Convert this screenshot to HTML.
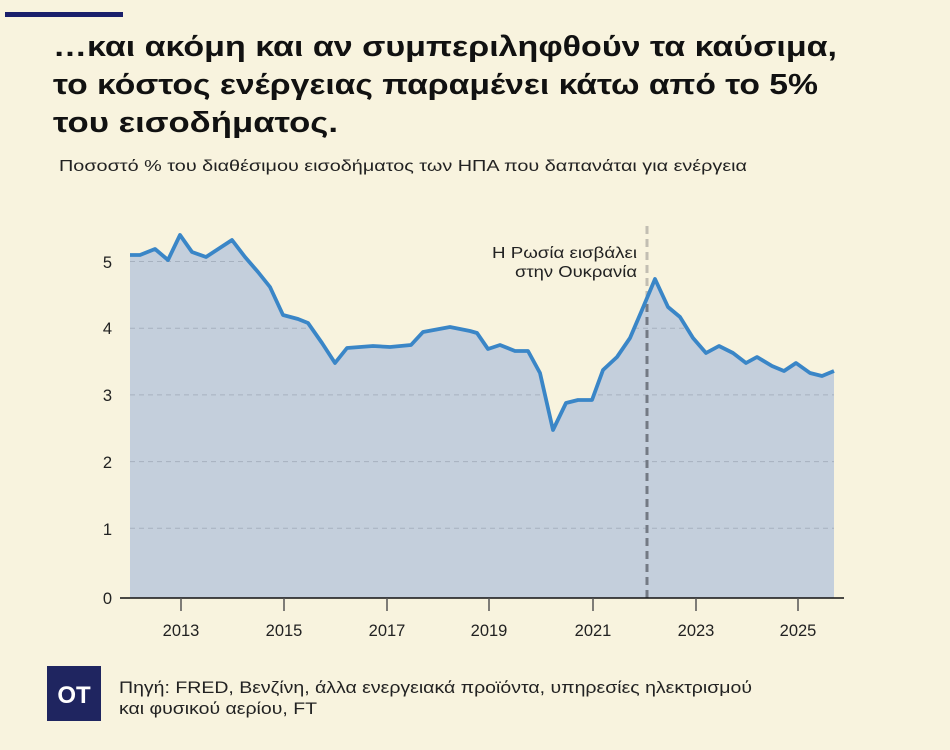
<!DOCTYPE html>
<html>
<head>
<meta charset="utf-8">
<style>
html,body{margin:0;padding:0;}
body{width:950px;height:750px;background:#f8f3de;overflow:hidden;}
svg{display:block;}
.t{font-family:"Liberation Sans","DejaVu Sans",sans-serif;}
</style>
</head>
<body>
<svg width="950" height="750" viewBox="0 0 950 750" xmlns="http://www.w3.org/2000/svg">
<rect x="0" y="0" width="950" height="750" fill="#f8f3de"/>
<rect x="5" y="12" width="118" height="5" fill="#1a1f6b"/>
<g class="t" font-weight="bold" font-size="29" fill="#111">
<text x="53" y="56" textLength="784" lengthAdjust="spacingAndGlyphs">…και ακόμη και αν συμπεριληφθούν τα καύσιμα,</text>
<text x="53" y="94" textLength="765" lengthAdjust="spacingAndGlyphs">το κόστος ενέργειας παραμένει κάτω από το 5%</text>
<text x="53" y="132" textLength="285" lengthAdjust="spacingAndGlyphs">του εισοδήματος.</text>
</g>
<text class="t" x="59" y="171" font-size="16" fill="#222" textLength="688" lengthAdjust="spacingAndGlyphs">Ποσοστό % του διαθέσιμου εισοδήματος των ΗΠΑ που δαπανάται για ενέργεια</text>

<defs>
<clipPath id="area">
<path d="M130,598 L130,255 L140,255 L155,249 L168,260 L180,235 L192,252 L206,257 L232,240 L245,257 L258,272 L270,287 L283,315 L298,319 L308,323 L322,343 L335,363 L347,348 L373,346 L390,347 L411,345 L423,332 L450,327 L470,331 L477,333 L488,349 L500,345 L515,351 L528,351 L540,373 L553,430 L566,403 L578,400 L592,400 L603,370 L617,357 L630,338 L642,310 L655,279 L668,307 L680,317 L693,338 L706,353 L719,346 L733,353 L746,363 L757,357 L772,366 L784,371 L796,363 L810,373 L822,376 L834,371 L834,598 Z"/>
</clipPath>
</defs>
<path d="M130,598 L130,255 L140,255 L155,249 L168,260 L180,235 L192,252 L206,257 L232,240 L245,257 L258,272 L270,287 L283,315 L298,319 L308,323 L322,343 L335,363 L347,348 L373,346 L390,347 L411,345 L423,332 L450,327 L470,331 L477,333 L488,349 L500,345 L515,351 L528,351 L540,373 L553,430 L566,403 L578,400 L592,400 L603,370 L617,357 L630,338 L642,310 L655,279 L668,307 L680,317 L693,338 L706,353 L719,346 L733,353 L746,363 L757,357 L772,366 L784,371 L796,363 L810,373 L822,376 L834,371 L834,598 Z" fill="#c4cfdc"/>
<g clip-path="url(#area)" stroke="#a6b1bf" stroke-width="1" stroke-dasharray="5,4">
<line x1="130" y1="261.5" x2="834" y2="261.5"/>
<line x1="130" y1="328.2" x2="834" y2="328.2"/>
<line x1="130" y1="394.9" x2="834" y2="394.9"/>
<line x1="130" y1="461.6" x2="834" y2="461.6"/>
<line x1="130" y1="528.3" x2="834" y2="528.3"/>
</g>
<!-- event line -->
<line x1="647" y1="226" x2="647" y2="598" stroke="#c2beb2" stroke-width="3" stroke-dasharray="8,5"/>
<line x1="647" y1="226" x2="647" y2="598" stroke="#737a84" stroke-width="3" stroke-dasharray="8,5" clip-path="url(#area)"/>
<polyline fill="none" stroke="#3a86c7" stroke-width="3.8" stroke-linejoin="round" points="130,255 140,255 155,249 168,260 180,235 192,252 206,257 232,240 245,257 258,272 270,287 283,315 298,319 308,323 322,343 335,363 347,348 373,346 390,347 411,345 423,332 450,327 470,331 477,333 488,349 500,345 515,351 528,351 540,373 553,430 566,403 578,400 592,400 603,370 617,357 630,338 642,310 655,279 668,307 680,317 693,338 706,353 719,346 733,353 746,363 757,357 772,366 784,371 796,363 810,373 822,376 834,371"/>
<g class="t" font-size="16" fill="#222">
<text x="492" y="258" textLength="145" lengthAdjust="spacingAndGlyphs">Η Ρωσία εισβάλει</text>
<text x="515" y="277" textLength="122" lengthAdjust="spacingAndGlyphs">στην Ουκρανία</text>
</g>
<!-- axes -->
<line x1="120" y1="598" x2="844" y2="598" stroke="#111" stroke-width="1.5"/>
<g stroke="#555" stroke-width="1.5">
<line x1="181" y1="598" x2="181" y2="611"/>
<line x1="284" y1="598" x2="284" y2="611"/>
<line x1="387" y1="598" x2="387" y2="611"/>
<line x1="489" y1="598" x2="489" y2="611"/>
<line x1="593" y1="598" x2="593" y2="611"/>
<line x1="696" y1="598" x2="696" y2="611"/>
<line x1="798" y1="598" x2="798" y2="611"/>
</g>
<g class="t" font-size="16.5" fill="#222" text-anchor="middle">
<text x="181" y="636">2013</text>
<text x="284" y="636">2015</text>
<text x="387" y="636">2017</text>
<text x="489" y="636">2019</text>
<text x="593" y="636">2021</text>
<text x="696" y="636">2023</text>
<text x="798" y="636">2025</text>
</g>
<g class="t" font-size="16.5" fill="#222" text-anchor="end">
<text x="112" y="604">0</text>
<text x="112" y="535">1</text>
<text x="112" y="468">2</text>
<text x="112" y="401">3</text>
<text x="112" y="334">4</text>
<text x="112" y="268">5</text>
</g>
<!-- footer -->
<rect x="47" y="666" width="54" height="55" fill="#1f2560"/>
<text class="t" x="74" y="703" font-size="24" font-weight="bold" fill="#fff" text-anchor="middle">OT</text>
<g class="t" font-size="16.5" fill="#222">
<text x="119" y="693" textLength="633" lengthAdjust="spacingAndGlyphs">Πηγή: FRED, Βενζίνη, άλλα ενεργειακά προϊόντα, υπηρεσίες ηλεκτρισμού</text>
<text x="119" y="714" textLength="198" lengthAdjust="spacingAndGlyphs">και φυσικού αερίου,  FT</text>
</g>
</svg>
</body>
</html>
